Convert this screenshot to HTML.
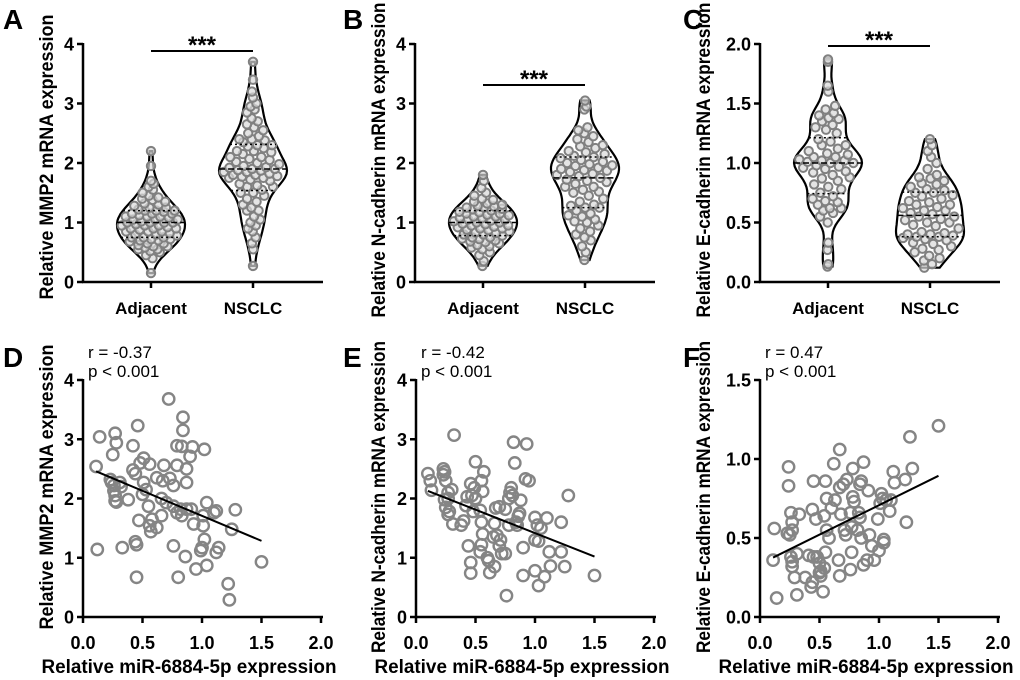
<!DOCTYPE html>
<html><head><meta charset="utf-8">
<style>
html,body{margin:0;padding:0;background:#fff;}
svg{display:block;}
text{font-family:"Liberation Sans",sans-serif;}
</style></head>
<body>
<svg id="fig" width="1020" height="680" viewBox="0 0 1020 680" xmlns="http://www.w3.org/2000/svg"></svg>
<script>
// ---------- Violin data ----------
const violinCategories = ["Adjacent","NSCLC"];
const mmp2Adjacent = [0.15,0.4,0.45,0.5,0.52,0.55,0.55,0.58,0.6,0.62,0.65,0.65,0.68,0.7,0.7,0.72,0.72,0.75,0.75,0.78,0.8,0.8,0.82,0.85,0.85,0.88,0.9,0.9,0.92,0.95,0.95,0.97,1.0,1.0,1.0,1.02,1.05,1.05,1.08,1.1,1.1,1.12,1.15,1.15,1.18,1.2,1.2,1.22,1.25,1.25,1.28,1.3,1.32,1.35,1.38,1.4,1.42,1.45,1.5,1.55,1.6,1.65,1.7,1.95,2.2,0.6,0.75,0.9,1.0,1.1,1.2,0.85,0.95,1.05,1.15];
const mmp2Nsclc = [0.27,0.55,0.65,0.75,0.85,0.95,1.05,1.1,1.2,1.2,1.25,1.3,1.4,1.45,1.5,1.5,1.55,1.6,1.6,1.65,1.7,1.72,1.75,1.75,1.78,1.8,1.8,1.82,1.85,1.85,1.88,1.9,1.9,1.92,1.95,1.98,2.0,2.02,2.05,2.1,2.1,2.15,2.2,2.2,2.25,2.3,2.3,2.35,2.4,2.4,2.45,2.5,2.55,2.6,2.7,2.75,2.85,2.9,3.0,3.1,3.2,3.4,3.7,1.35,1.62,1.77,1.87,1.93,2.07,2.18,2.28,2.38,2.65,2.95,1.0,0.9];
const ncadAdjacent = [0.27,0.35,0.45,0.5,0.55,0.6,0.62,0.65,0.68,0.7,0.72,0.75,0.75,0.78,0.8,0.8,0.82,0.85,0.88,0.9,0.9,0.92,0.95,0.95,0.98,1.0,1.0,1.02,1.05,1.05,1.08,1.1,1.1,1.12,1.15,1.15,1.18,1.2,1.22,1.25,1.25,1.28,1.3,1.32,1.35,1.4,1.45,1.5,1.58,1.7,1.8,0.58,0.73,0.87,0.97,1.07,1.17,1.27,0.67,0.83,0.93,1.03,1.13,1.23,1.38];
const ncadNsclc = [0.37,0.5,0.6,0.7,0.75,0.85,0.9,0.95,1.0,1.05,1.1,1.15,1.2,1.25,1.25,1.3,1.35,1.4,1.45,1.5,1.55,1.6,1.6,1.65,1.7,1.72,1.75,1.78,1.8,1.82,1.85,1.88,1.9,1.92,1.95,1.98,2.0,2.02,2.05,2.08,2.1,2.12,2.15,2.2,2.25,2.3,2.35,2.4,2.45,2.5,2.55,2.6,2.9,2.95,3.05,1.28,1.68,1.87,1.96,2.18,2.28,1.12,1.52,0.8,1.02];
const ecadAdjacent = [0.13,0.15,0.27,0.33,0.5,0.55,0.58,0.6,0.62,0.62,0.65,0.68,0.7,0.72,0.75,0.78,0.8,0.82,0.85,0.88,0.9,0.92,0.95,0.97,1.0,1.0,1.02,1.02,1.05,1.05,1.08,1.1,1.12,1.15,1.15,1.18,1.2,1.25,1.3,1.32,1.35,1.38,1.4,1.42,1.45,1.48,1.6,1.65,1.85,1.87,0.93,0.98,1.03,1.07,0.87,0.67,1.28,1.37,0.96,1.01];
const ecadNsclc = [0.12,0.15,0.18,0.2,0.22,0.25,0.28,0.3,0.32,0.35,0.36,0.38,0.38,0.4,0.4,0.42,0.45,0.47,0.5,0.5,0.52,0.55,0.55,0.58,0.6,0.6,0.62,0.65,0.65,0.68,0.7,0.72,0.75,0.75,0.78,0.8,0.82,0.85,0.88,0.9,0.95,1.0,1.05,1.1,1.15,1.2,0.37,0.39,0.41,0.57,0.63,0.73,0.77,0.83,0.33,0.48,0.67,0.53,0.27,0.87];
const mmp2Ticks = ["0","1","2","3","4"];
const ncadTicks = ["0","1","2","3","4"];
const ecadTicks = ["0.0","0.5","1.0","1.5","2.0"];
// ---------- Scatter data ----------
const scatterXTicks = ["0.0","0.5","1.0","1.5","2.0"];
const dMir = [0.12,0.14,0.11,0.27,0.28,0.25,0.23,0.24,0.26,0.27,0.28,0.26,0.31,0.32,0.27,0.38,0.42,0.46,0.42,0.44,0.48,0.51,0.51,0.5,0.53,0.56,0.62,0.55,0.58,0.56,0.57,0.62,0.47,0.44,0.45,0.33,0.45,0.68,0.67,0.66,0.7,0.66,0.73,0.76,0.72,0.79,0.83,0.84,0.84,0.79,0.87,0.87,0.92,0.9,0.76,0.79,0.82,0.83,0.87,0.91,0.93,0.86,0.76,0.8,0.95,1.02,1.04,1.01,1.01,1.02,1.0,0.99,1.04,1.1,1.12,1.14,1.12,1.28,1.25,1.22,1.23,1.5];
const dMmp2 = [1.14,3.04,2.54,3.1,2.94,2.74,2.32,2.27,2.22,2.05,1.94,2.13,2.27,2.2,1.96,1.98,2.89,3.23,2.48,2.42,2.6,2.68,2.27,2.07,2.15,2.58,2.35,1.87,1.65,1.54,1.44,1.51,1.63,1.27,1.22,1.17,0.67,2.56,2.3,2.0,1.93,1.71,2.34,2.22,3.68,2.89,2.88,3.37,3.15,2.56,2.5,2.27,2.87,2.71,1.87,1.76,1.82,1.71,1.82,1.82,1.57,1.02,1.2,0.67,0.81,2.83,1.93,1.54,1.71,1.31,1.17,1.12,0.87,1.76,1.79,1.17,1.09,1.81,1.48,0.56,0.29,0.93];
const eMir = [0.1,0.12,0.13,0.23,0.24,0.23,0.25,0.27,0.24,0.27,0.25,0.28,0.27,0.3,0.32,0.31,0.38,0.4,0.42,0.43,0.46,0.47,0.49,0.5,0.5,0.48,0.55,0.57,0.56,0.54,0.55,0.56,0.55,0.54,0.44,0.46,0.46,0.6,0.61,0.62,0.66,0.65,0.68,0.66,0.67,0.7,0.71,0.7,0.72,0.75,0.75,0.78,0.79,0.8,0.81,0.82,0.83,0.86,0.87,0.85,0.84,0.88,0.9,0.9,0.92,0.95,0.93,0.76,0.78,1.0,1.0,1.02,1.05,1.03,1.0,1.03,1.08,1.1,1.12,1.13,1.22,1.22,1.25,1.28,1.5];
const eNcad = [2.42,2.3,2.14,2.5,2.45,2.4,2.3,2.1,1.98,2.0,1.85,1.78,1.73,2.15,3.07,1.57,1.55,1.62,1.88,2.03,2.25,2.05,2.18,2.62,2.0,1.78,2.3,2.45,2.12,1.8,1.6,1.4,1.22,1.1,1.2,0.92,0.74,1.0,0.95,0.75,0.85,1.35,1.38,1.58,1.84,1.86,1.3,1.2,1.07,1.07,1.82,2.0,2.1,2.18,2.05,2.95,2.6,1.7,1.75,1.55,1.6,1.97,1.17,0.7,2.33,2.3,2.92,0.36,1.55,1.68,1.3,1.55,1.5,1.28,0.78,0.53,0.68,1.67,1.1,0.86,1.6,1.1,0.85,2.05,0.7];
const fMir = [0.12,0.11,0.14,0.23,0.24,0.24,0.26,0.27,0.27,0.25,0.26,0.27,0.27,0.29,0.31,0.33,0.31,0.38,0.41,0.43,0.44,0.45,0.44,0.45,0.47,0.48,0.5,0.5,0.51,0.51,0.53,0.54,0.55,0.54,0.55,0.56,0.56,0.58,0.6,0.63,0.62,0.67,0.67,0.68,0.66,0.67,0.71,0.72,0.7,0.73,0.76,0.78,0.78,0.79,0.77,0.77,0.76,0.82,0.84,0.83,0.84,0.85,0.87,0.85,0.87,0.9,0.91,0.92,0.94,0.96,0.99,1.0,1.01,1.02,1.03,1.04,1.04,1.06,1.09,1.1,1.12,1.13,1.22,1.23,1.26,1.28,1.5];
const fEcad = [0.56,0.36,0.12,0.53,0.95,0.83,0.66,0.6,0.55,0.52,0.38,0.35,0.32,0.25,0.4,0.65,0.14,0.25,0.39,0.19,0.22,0.38,0.68,0.86,0.62,0.38,0.34,0.28,0.26,0.29,0.16,0.31,0.41,0.64,0.86,0.75,0.55,0.5,0.69,0.74,0.97,1.06,0.82,0.65,0.36,0.26,0.55,0.52,0.84,0.87,0.66,0.94,0.76,0.73,0.57,0.41,0.3,0.55,0.63,0.66,0.84,0.86,0.98,0.5,0.33,0.36,0.8,0.52,0.45,0.36,0.62,0.42,0.72,0.78,0.75,0.47,0.49,0.74,0.67,0.74,0.92,0.85,0.87,0.6,1.14,0.94,1.21];

const NS = "http://www.w3.org/2000/svg";
const svg = document.getElementById("fig");
function mk(tag, attrs, parent) {
  const e = document.createElementNS(NS, tag);
  for (const k in attrs) e.setAttribute(k, attrs[k]);
  (parent || svg).appendChild(e);
  return e;
}
function txt(s, attrs, parent) { const t = mk("text", attrs, parent); t.textContent = s; return t; }

function axesCommon(g, ax, top, bottom, xEnd, yTicks, yMax, yTitle, yTitleX, titleCY, titleLen) {
  const ys = v => bottom - (v / yMax) * (bottom - top);
  const yaxis = mk("line", {x1: ax, y1: top - 1, x2: ax, y2: bottom + 1, stroke: "#000", "stroke-width": 2.5}, g);
  
  
  const xaxis = mk("line", {x1: ax - 1, y1: bottom, x2: xEnd, y2: bottom, stroke: "#000", "stroke-width": 2.5}, g);
  
  
  yTicks.forEach((lab, i) => {
    const v = yMax * i / (yTicks.length - 1);
    const y = ys(v);
    const tk = mk("line", {x1: ax - 6, y1: y, x2: ax, y2: y, stroke: "#000", "stroke-width": 2.5}, g);
    
    
    const t = txt(lab, {x: ax - 9, y: y + 6.5, "text-anchor": "end", "font-size": 18, "font-weight": "bold"}, g);
    
    
  });
  const tt = txt(yTitle, {x: 0, y: 0, transform: `translate(${yTitleX},${titleCY}) rotate(-90)`, "text-anchor": "middle", "font-size": 19, "font-weight": "bold", textLength: titleLen, lengthAdjust: "spacingAndGlyphs"}, g);
  
  
  return ys;
}

function quantile(a, q) { const s = [...a].sort((x, y) => x - y); const p = (s.length - 1) * q; const lo = Math.floor(p); return s[lo] + (s[Math.min(lo + 1, s.length - 1)] - s[lo]) * (p - lo); }

function violinPanel(cfg) {
  const g = mk("g", {});
  
  
  const top = 44, bottom = 282, ax = cfg.ax, xEnd = ax + 240;
  const ys = axesCommon(g, ax, top, bottom, xEnd, cfg.ticks, cfg.yMax, cfg.yTitle, cfg.titleX, cfg.titleCY, cfg.titleLen);
  const bw = cfg.yMax * 0.045;
  [cfg.a, cfg.b].forEach((vals, gi) => {
    const cx = ax + 68 + gi * 102;
    const mn = Math.min(...vals), mx = Math.max(...vals);
    const kde = y => vals.reduce((s, v) => s + Math.exp(-0.5 * ((y - v) / bw) ** 2), 0);
    const steps = 60, pts = [];
    let maxD = 0;
    for (let i = 0; i <= steps; i++) { const y = mn + (mx - mn) * i / steps; const d = kde(y); pts.push([y, d]); if (d > maxD) maxD = d; }
    const W = 34;
    const wAt = y => kde(y) / maxD * W;
    let d = "";
    pts.forEach(([y, dd], i) => { d += (i ? "L" : "M") + (cx + dd / maxD * W).toFixed(1) + "," + ys(y).toFixed(1); });
    for (let i = pts.length - 1; i >= 0; i--) d += "L" + (cx - pts[i][1] / maxD * W).toFixed(1) + "," + ys(pts[i][0]).toFixed(1);
    d += "Z";
    const vp = mk("path", {d, fill: "none", stroke: "#000", "stroke-width": 2.2}, g);
    
    
    const sorted = [...vals].sort((p, q) => p - q);
    sorted.forEach((v, i) => {
      const frac = ((i * 0.6180339) % 1) * 2 - 1;
      const w = Math.max(wAt(v) - 4, 0);
      const c = mk("circle", {cx: cx + frac * w, cy: ys(v), r: 4.2, fill: "#d8d8d8", "fill-opacity": 0.7, stroke: "#808080", "stroke-width": 2}, g);
      
      
    });
    [[0.25, "2,3"], [0.5, "6,3"], [0.75, "2,3"]].forEach(([q, dash]) => {
      const y = quantile(vals, q); const w = wAt(y);
      const l = mk("line", {x1: cx - w, x2: cx + w, y1: ys(y), y2: ys(y), stroke: "#000", "stroke-width": 1.5, "stroke-dasharray": dash}, g);
      
      
    });
    const tk = mk("line", {x1: cx, x2: cx, y1: bottom, y2: bottom + 6, stroke: "#000", "stroke-width": 2.5}, g);
    
    
    const lt = txt(violinCategories[gi], {x: cx, y: 314, "text-anchor": "middle", "font-size": 17, "font-weight": "bold"}, g);
    
    
  });
  const by = cfg.barY;
  const bar = mk("line", {x1: ax + 68, x2: ax + 170, y1: by, y2: by, stroke: "#000", "stroke-width": 2}, g);
  
  
  const st = txt("***", {x: ax + 119, y: by + 2, "text-anchor": "middle", "font-size": 24, "font-weight": "bold"}, g);
  
  
  const pl = txt(cfg.letter, {x: cfg.letterX, y: 29, "font-size": 28, "font-weight": "bold"}, g);
  
  
}

function scatterPanel(cfg) {
  const g = mk("g", {});
  
  
  const top = 380, bottom = 617, ax = cfg.ax, xEnd = ax + 240;
  const ys = axesCommon(g, ax, top, bottom, xEnd, cfg.ticks, cfg.yMax, cfg.yTitle, cfg.titleX, cfg.titleCY, cfg.titleLen);
  const xs = v => ax + v / 2 * 238;
  scatterXTicks.forEach((lab, i) => {
    const v = 2 * i / (scatterXTicks.length - 1);
    const tk = mk("line", {x1: xs(v), x2: xs(v), y1: bottom, y2: bottom + 6, stroke: "#000", "stroke-width": 2.5}, g);
    
    
    const t = txt(lab, {x: xs(v), y: 649, "text-anchor": "middle", "font-size": 18, "font-weight": "bold"}, g);
    
    
  });
  const xt = txt("Relative miR-6884-5p expression", {x: ax + 106, y: 673, "text-anchor": "middle", "font-size": 19, "font-weight": "bold", textLength: 295, lengthAdjust: "spacingAndGlyphs"}, g);
  
  
  cfg.x.forEach((xv, i) => {
    const c = mk("circle", {cx: xs(xv), cy: ys(cfg.y[i]), r: 5.7, fill: "none", stroke: "#858585", "stroke-width": 2.4}, g);
    
    
  });
  const n = cfg.x.length, mx = cfg.x.reduce((a, b) => a + b) / n, my = cfg.y.reduce((a, b) => a + b) / n;
  let sxy = 0, sxx = 0; cfg.x.forEach((xv, i) => { sxy += (xv - mx) * (cfg.y[i] - my); sxx += (xv - mx) ** 2; });
  const slope = sxy / sxx, icp = my - slope * mx;
  const x0 = Math.min(...cfg.x), x1 = Math.max(...cfg.x);
  const fl = mk("line", {x1: xs(x0), y1: ys(icp + slope * x0), x2: xs(x1), y2: ys(icp + slope * x1), stroke: "#000", "stroke-width": 2}, g);
  
  
  const r = txt(cfg.r, {x: ax + 5, y: 358, "font-size": 17, "font-family": "Liberation Serif, serif"}, g);
  
  
  const p = txt("p < 0.001", {x: ax + 5, y: 377, "font-size": 17, "font-family": "Liberation Serif, serif"}, g);
  
  
  const pl = txt(cfg.letter, {x: cfg.letterX, y: 367, "font-size": 28, "font-weight": "bold"}, g);
  
  
}

violinPanel({name: "panel-a", letter: "A", letterX: 3, ax: 83, ticks: mmp2Ticks, yMax: 4, a: mmp2Adjacent, b: mmp2Nsclc, yTitle: "Relative MMP2 mRNA expression", titleX: 53, titleCY: 157, titleLen: 285, barY: 51});
violinPanel({name: "panel-b", letter: "B", letterX: 343, ax: 415, ticks: ncadTicks, yMax: 4, a: ncadAdjacent, b: ncadNsclc, yTitle: "Relative N-cadherin mRNA expression", titleX: 385, titleCY: 160, titleLen: 315, barY: 85});
violinPanel({name: "panel-c", letter: "C", letterX: 683, ax: 760, ticks: ecadTicks, yMax: 2, a: ecadAdjacent, b: ecadNsclc, yTitle: "Relative E-cadherin mRNA expression", titleX: 710, titleCY: 160, titleLen: 315, barY: 46});
scatterPanel({name: "panel-d", letter: "D", letterX: 3, ax: 83, ticks: mmp2Ticks, yMax: 4, x: dMir, y: dMmp2, r: "r = -0.37", yTitle: "Relative MMP2 mRNA expression", titleX: 53, titleCY: 487, titleLen: 285});
scatterPanel({name: "panel-e", letter: "E", letterX: 343, ax: 416, ticks: ncadTicks, yMax: 4, x: eMir, y: eNcad, r: "r = -0.42", yTitle: "Relative N-cadherin mRNA expression", titleX: 385, titleCY: 497, titleLen: 312});
scatterPanel({name: "panel-f", letter: "F", letterX: 683, ax: 760, ticks: ["0.0","0.5","1.0","1.5"], yMax: 1.5, x: fMir, y: fEcad, r: "r = 0.47", yTitle: "Relative E-cadherin mRNA expression", titleX: 710, titleCY: 497, titleLen: 312});
</script>
</body></html>
